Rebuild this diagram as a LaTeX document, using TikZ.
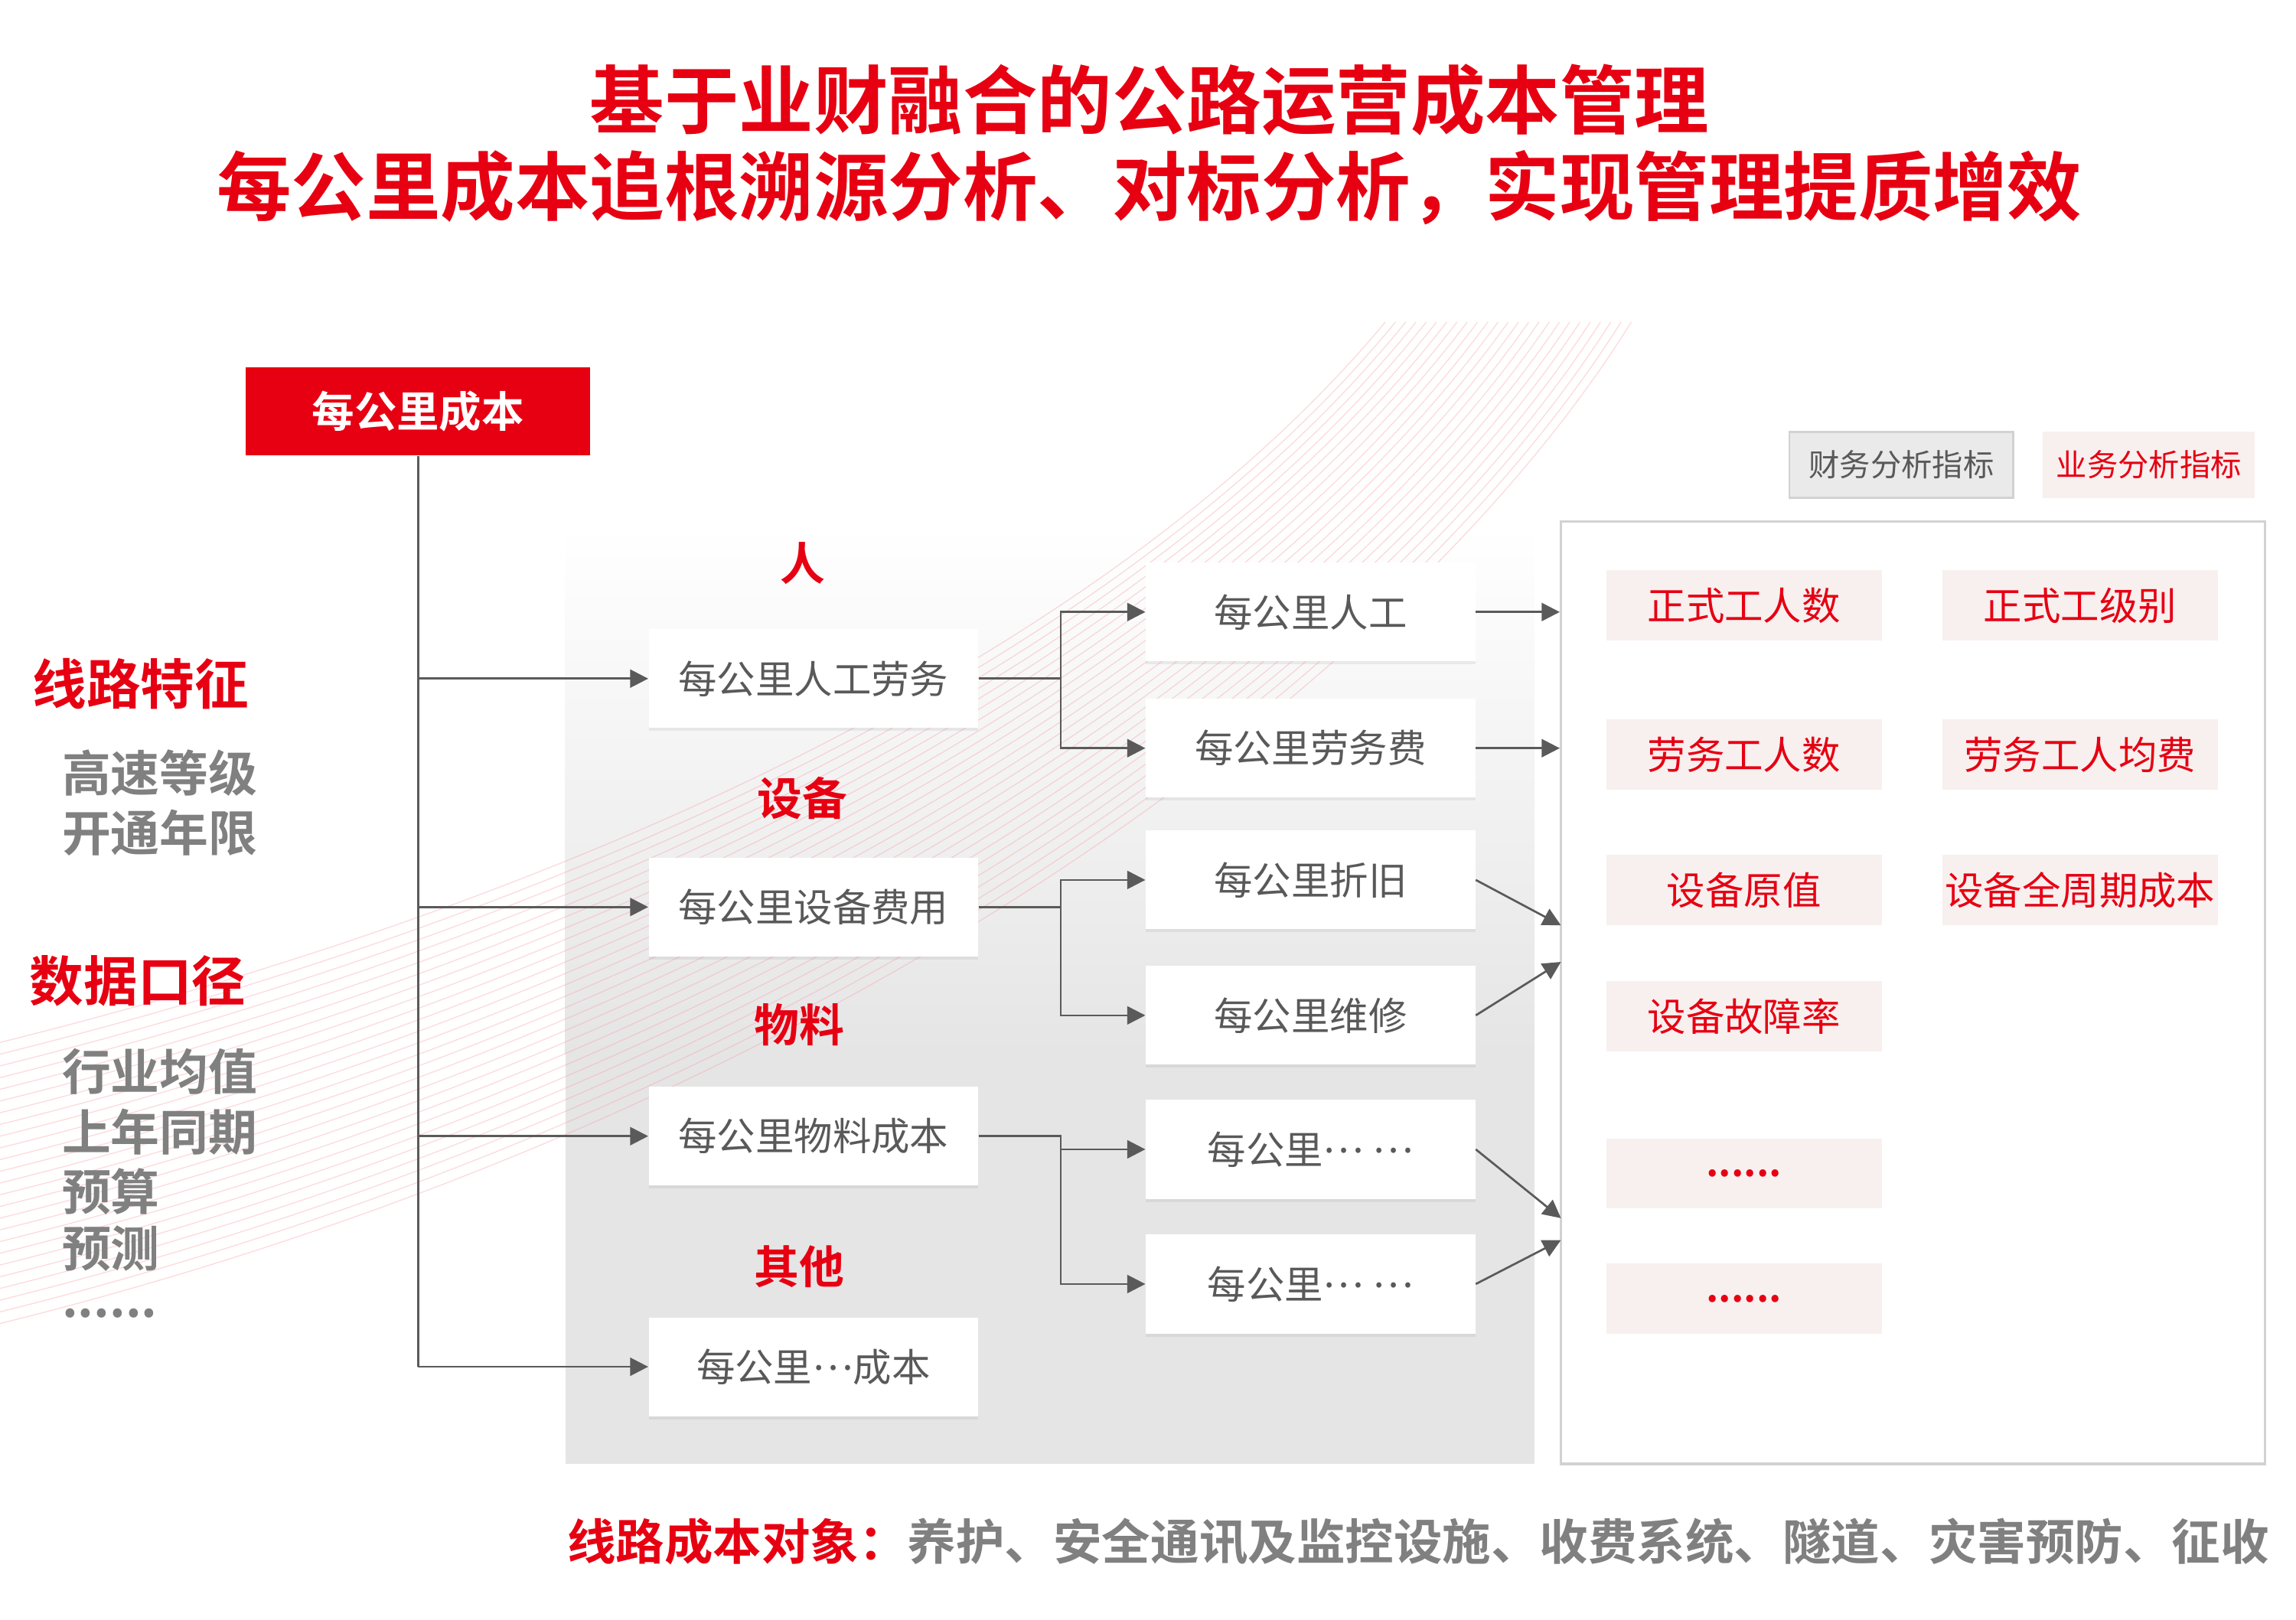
\documentclass[tikz,border=0pt]{standalone}
\usepackage{fontspec}
\setmainfont{Noto Sans CJK SC}[BoldFont={Noto Sans CJK SC Bold}]
\usetikzlibrary{arrows.meta,shadows}
\definecolor{hred}{HTML}{E60012}
\definecolor{tgray}{HTML}{595959}
\definecolor{sgray}{HTML}{808080}
\definecolor{lgray}{HTML}{5A5A5A}
\definecolor{pgray}{HTML}{E6E5E6}
\definecolor{itemfill}{HTML}{F7F0EF}
\definecolor{bgray}{HTML}{D2D2D2}
\newcommand{\mdots}{\raisebox{0.3em}{…}}

\begin{document}
\begin{tikzpicture}[x=0.02cm, y=-0.02cm,
    arr/.style={draw=lgray, line width=0.8pt, -{Triangle[length=7pt,width=7pt]}},
    costbox/.style={fill=white, minimum width=4.5cm, minimum height=1.35cm, inner sep=0pt,
        text=tgray, font=\fontsize{15}{18}\selectfont,
        drop shadow={shadow xshift=0pt, shadow yshift=-1.2pt, opacity=0.12}},
    catlabel/.style={text=hred, font=\bfseries\fontsize{17.5}{20}\selectfont},
    indbox/.style={fill=itemfill, minimum width=3.76cm, minimum height=0.96cm, inner sep=0pt,
        text=hred, font=\fontsize{15}{18}\selectfont},
    redhead/.style={anchor=west, inner sep=0pt, text=hred, font=\bfseries\fontsize{21}{24}\selectfont},
    grayitem/.style={anchor=west, inner sep=0pt, text=sgray, font=\bfseries\fontsize{19}{22}\selectfont}]
    \useasboundingbox (0,0) rectangle (1568,1106);
    \node[text=hred, font=\bfseries\fontsize{29}{34}\selectfont] (title1) at (785,68) {基于业财融合的公路运营成本管理};
    \node[text=hred, font=\bfseries\fontsize{29}{34}\selectfont] (title2) at (785,128) {每公里成本追根溯源分析、对标分析，实现管理提质增效};
    \shade[top color=white, bottom color=pgray] (386,360) rectangle (1048,720);
    \fill[pgray] (386,719) rectangle (1048,1000);
    \foreach \i in {0,...,24}{
        \pgfmathsetmacro{\ya}{712+8*\i}
        \pgfmathsetmacro{\ax}{450+6*\i}
        \pgfmathsetmacro{\ay}{600+6.5*\i}
        \pgfmathsetmacro{\bx}{780+8*\i}
        \pgfmathsetmacro{\by}{420+1.2*\i}
        \pgfmathsetmacro{\xb}{946+7*\i}
        \draw[hred!40, opacity=0.35, line width=0.4pt] (0,\ya) .. controls (\ax,\ay) and (\bx,\by) .. (\xb,220);
    }
    \node[fill=hred, minimum width=4.7cm, minimum height=1.2cm, text=white, font=\bfseries\fontsize{16.5}{20}\selectfont] (boss) at (285.5,281) {每公里成本};
    \node[redhead] (feat) at (22,467) {线路特征};
    \node[grayitem] (grade) at (42,528) {高速等级};
    \node[grayitem] (years) at (42,569) {开通年限};
    \node[redhead] (scope) at (20,670) {数据口径};
    \node[grayitem] (avg) at (42,732) {行业均值};
    \node[grayitem] (last) at (42,773) {上年同期};
    \node[grayitem] (budget) at (42,814) {预算};
    \node[grayitem] (fcst) at (42,853) {预测};
    \node[grayitem] (more) at (42,897) {......};
    \node[catlabel] (cat1) at (548,385) {人};
    \node[catlabel] (cat2) at (548,545) {设备};
    \node[catlabel] (cat3) at (546,700) {物料};
    \node[catlabel] (cat4) at (546,865) {其他};
    \node[costbox] (l1a) at (555.5,463.5) {每公里人工劳务};
    \node[costbox] (l1b) at (555.5,619.5) {每公里设备费用};
    \node[costbox] (l1c) at (555.5,776) {每公里物料成本};
    \node[costbox] (l1d) at (555.5,933.5) {每公里\mdots 成本};
    \node[costbox] (l2a) at (895,418) {每公里人工};
    \node[costbox] (l2b) at (895,511) {每公里劳务费};
    \node[costbox] (l2c) at (895,601) {每公里折旧};
    \node[costbox] (l2d) at (895,693.5) {每公里维修};
    \node[costbox] (l2e) at (895,785) {每公里\mdots\ \mdots};
    \node[costbox] (l2f) at (895,877) {每公里\mdots\ \mdots};
    \node[draw=bgray, fill=white, line width=1pt, minimum width=9.62cm, minimum height=12.88cm] (idx) at (1306.5,678) {};
    \node[draw=bgray, fill=pgray!80, line width=0.8pt, minimum width=3.06cm, minimum height=0.9cm, text=tgray, font=\fontsize{12}{14}\selectfont] (fin) at (1298.5,317.5) {财务分析指标};
    \node[fill=itemfill, minimum width=2.9cm, minimum height=0.9cm, text=hred, font=\fontsize{12}{14}\selectfont] (biz) at (1467.5,317.5) {业务分析指标};
    \node[indbox] (i1) at (1191,413.5) {正式工人数};
    \node[indbox] (i2) at (1420.5,413.5) {正式工级别};
    \node[indbox] (i3) at (1191,515.5) {劳务工人数};
    \node[indbox] (i4) at (1420.5,515.5) {劳务工人均费};
    \node[indbox] (i5) at (1191,608) {设备原值};
    \node[indbox] (i6) at (1420.5,608) {设备全周期成本};
    \node[indbox] (i7) at (1191,694) {设备故障率};
    \node[indbox, font=\bfseries\fontsize{15}{18}\selectfont] (i8) at (1191,801.5) {......};
    \node[indbox, font=\bfseries\fontsize{15}{18}\selectfont] (i9) at (1191,887) {......};
    \draw[lgray, line width=0.8pt] (boss.south) -- (boss.south |- l1d);
    \foreach \n in {l1a,l1b,l1c,l1d}
        \draw[arr] (boss.south |- \n) -- (\n);
    \draw[arr] (l1a.east) -- ++(56,0) |- (l2a);
    \draw[arr] (l1a.east) -- ++(56,0) |- (l2b);
    \draw[arr] (l1b.east) -- ++(56,0) |- (l2c);
    \draw[arr] (l1b.east) -- ++(56,0) |- (l2d);
    \draw[arr] (l1c.east) -- ++(56,0) |- (l2e);
    \draw[arr] (l1c.east) -- ++(56,0) |- (l2f);
    \coordinate (e1) at (1066,632);
    \coordinate (e2) at (1066,657);
    \coordinate (e3) at (1066,832);
    \coordinate (e4) at (1066,847);
    \draw[arr] (l2a.east) -- (l2a.east -| idx.west);
    \draw[arr] (l2b.east) -- (l2b.east -| idx.west);
    \draw[arr] (l2c.east) -- (e1);
    \draw[arr] (l2d.east) -- (e2);
    \draw[arr] (l2e.east) -- (e3);
    \draw[arr] (l2f.east) -- (e4);
    \node[anchor=west, inner sep=0pt, font=\bfseries\fontsize{18.9}{22}\selectfont] (obj) at (387,1053) {\textcolor{hred}{线路成本对象：}\textcolor{sgray}{养护、安全通讯及监控设施、收费系统、隧道、灾害预防、征收}};
\end{tikzpicture}
\end{document}
